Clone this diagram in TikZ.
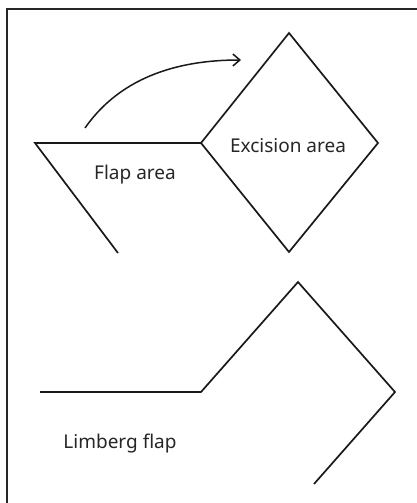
\documentclass[tikz,border=0pt]{standalone}
\usepackage{fontspec}
\setmainfont{Noto Sans}
\usetikzlibrary{arrows.meta}
\begin{document}
\begin{tikzpicture}[x=1pt,y=-1pt,
  shape line/.style={line width=1.7pt, line join=miter, color=black!90},
  frame line/.style={line width=1.4pt, color=black!85},
  lbl/.style={font=\fontsize{19}{21}\selectfont, text=black!85, inner sep=0pt}]
\useasboundingbox (0,0) rectangle (417,503);
\begin{scope}
\clip (0,0) rectangle (417,503);
\draw[frame line] (7,520) -- (7,9) -- (430,9);
\end{scope}
% top figure
\coordinate (fa) at (35,143);
\coordinate (fb) at (118,253);
\coordinate (dl) at (201,143);
\coordinate (dt) at (289,33);
\coordinate (dr) at (378,143);
\coordinate (db) at (289,252);
\draw[shape line] (fb) -- (fa) -- (dl);
\draw[shape line] (dl) -- (dt) -- (dr) -- (db) -- cycle;
\coordinate (as) at (85,128);
\coordinate (ae) at (241,60);
\draw[shape line, line width=1.5pt, -{Straight Barb[length=7pt,width=12pt]}] (as) .. controls (115,85) and (165,60) .. (ae);
\node[lbl] (flap) at (135,175) {Flap area};
\node[lbl] (exc) at (288,146) {Excision area};
% bottom figure
\coordinate (la) at (40,392);
\coordinate (lb) at (201,392);
\coordinate (lc) at (298,282);
\coordinate (ld) at (395,392);
\coordinate (le) at (314,484);
\draw[shape line] (la) -- (lb) -- (lc) -- (ld) -- (le);
\node[lbl] (limb) at (120,444) {Limberg flap};
\end{tikzpicture}
\end{document}
